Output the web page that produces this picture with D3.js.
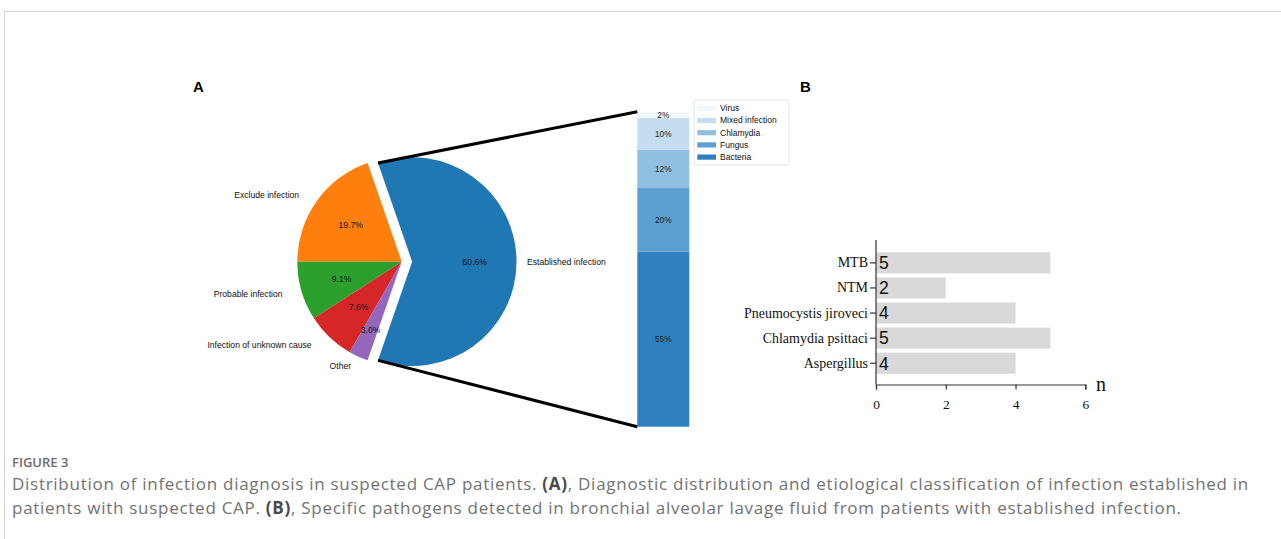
<!DOCTYPE html>
<html>
<head>
<meta charset="utf-8">
<script src="https://cdn.jsdelivr.net/npm/d3@7"></script>
<style>
  html, body { margin: 0; padding: 0; background: #fff; }
  svg { display: block; }
</style>
</head>
<body>
<svg id="fig" width="1281" height="539"></svg>
<script>
// Panel A: diagnosis distribution (pie)
const diagnosisLabels = ["Established infection", "Exclude infection", "Probable infection", "Infection of unknown cause", "Other"];
const diagnosisShares = [60.6, 19.7, 9.1, 7.6, 3.0];
const diagnosisColors = ["#1f77b4", "#ff7f0e", "#2ca02c", "#d62728", "#9467bd"];

// Panel A: etiology of established infection (stacked column, bottom to top)
const etiologyLabels = ["Bacteria", "Fungus", "Chlamydia", "Mixed infection", "Virus"];
const etiologyShares = [55, 20, 12, 10, 2];
const etiologyColors = ["#2f80c0", "#5b9fd3", "#8fc0e2", "#c4ddf0", "#f1f7fd"];

// Panel B: specific pathogens in BALF
const pathogenLabels = ["MTB", "NTM", "Pneumocystis jiroveci", "Chlamydia psittaci", "Aspergillus"];
const pathogenCounts = [5, 2, 4, 5, 4];
const countTicks = [0, 2, 4, 6];

const captionHead = "FIGURE 3";
const captionLine1 = [
  ["Distribution of infection diagnosis in suspected CAP patients. ", false],
  ["(A)", true],
  [", Diagnostic distribution and etiological classification of infection established in", false]
];
const captionLine2 = [
  ["patients with suspected CAP. ", false],
  ["(B)", true],
  [", Specific pathogens detected in bronchial alveolar lavage fluid from patients with established infection.", false]
];

const svg = d3.select("#fig");
const sans = "'Liberation Sans', Arial, sans-serif";
const serif = "'Liberation Serif', 'Times New Roman', serif";

// frame around the figure
svg.append("path")
  .attr("d", "M4.5,539 L4.5,11.5 L1281,11.5")
  .attr("fill", "none").attr("stroke", "#d3d3d3").attr("stroke-width", 1);

// panel letters
svg.append("text").attr("x", 193).attr("y", 92).text("A")
  .attr("font-family", sans).attr("font-weight", "bold").attr("font-size", 15);
svg.append("text").attr("x", 800).attr("y", 92).text("B")
  .attr("font-family", sans).attr("font-weight", "bold").attr("font-size", 15);

// ---------- pie ----------
const cx = 401.7, cy = 261.7, R = 104.4, explode = 0.1 * R;
const total = d3.sum(diagnosisShares);
const half = diagnosisShares[0] / total * Math.PI;   // half-angle of the first slice
const pieGen = d3.pie().sort(null).value(d => d)
  .startAngle(Math.PI / 2 + half)
  .endAngle(Math.PI / 2 + half - 2 * Math.PI);      // counter-clockwise
const arcs = pieGen(diagnosisShares);
const arcGen = d3.arc().innerRadius(0).outerRadius(R);
// radial position of the percentage text, as a fraction of R
const pctDist = [0.6, 0.6, 0.6, 0.6, 0.72];
// extra horizontal nudge for the outer labels on the left side
const labelNudge = [0, -9, -9, -11, -3];

const pieG = svg.append("g");
arcs.forEach((a, i) => {
  const mid = (a.startAngle + a.endAngle) / 2;
  const off = i === 0 ? explode : 0;
  const ox = cx + Math.sin(mid) * off, oy = cy - Math.cos(mid) * off;
  const g = pieG.append("g").attr("transform", `translate(${ox},${oy})`);
  g.append("path").attr("d", arcGen(a)).attr("fill", diagnosisColors[i]);
  g.append("text")
    .attr("x", Math.sin(mid) * R * pctDist[i]).attr("y", -Math.cos(mid) * R * pctDist[i])
    .attr("dy", "0.35em").attr("text-anchor", "middle")
    .attr("font-family", sans).attr("font-size", 8.6).attr("fill", "#111")
    .text(d3.format(".1f")(diagnosisShares[i]) + "%");
  const lx = Math.sin(mid) * R * 1.1, ly = -Math.cos(mid) * R * 1.1;
  g.append("text")
    .attr("x", lx + labelNudge[i]).attr("y", ly)
    .attr("dy", "0.35em").attr("text-anchor", lx > 0 ? "start" : "end")
    .attr("font-family", sans).attr("font-size", 8.6).attr("fill", "#111")
    .text(diagnosisLabels[i]);
});

// ---------- stacked column ----------
const colX0 = 637.3, colX1 = 689.3;
const yCol = d3.scaleLinear().domain([0, d3.sum(etiologyShares)]).range([426.7, 111.7]);
const tops = d3.cumsum(etiologyShares);
const colG = svg.append("g");
etiologyShares.forEach((v, i) => {
  const lo = tops[i] - v, hi = tops[i];
  colG.append("rect")
    .attr("x", colX0).attr("width", colX1 - colX0)
    .attr("y", yCol(hi)).attr("height", yCol(lo) - yCol(hi))
    .attr("fill", etiologyColors[i]);
  colG.append("text")
    .attr("x", (colX0 + colX1) / 2).attr("y", yCol((lo + hi) / 2))
    .attr("dy", "0.35em").attr("text-anchor", "middle")
    .attr("font-family", sans).attr("font-size", 8.3).attr("fill", "#222")
    .text(v + "%");
});

// connectors from the exploded slice to the column
const blue = arcs[0];
const bMid = (blue.startAngle + blue.endAngle) / 2;
const bx = cx + Math.sin(bMid) * explode, by = cy - Math.cos(bMid) * explode;
const pTop = [bx + Math.sin(blue.endAngle) * R, by - Math.cos(blue.endAngle) * R];
const pBot = [bx + Math.sin(blue.startAngle) * R, by - Math.cos(blue.startAngle) * R];
svg.append("line").attr("x1", pTop[0]).attr("y1", pTop[1]).attr("x2", colX0).attr("y2", yCol.range()[1])
  .attr("stroke", "#000").attr("stroke-width", 3);
svg.append("line").attr("x1", pBot[0]).attr("y1", pBot[1]).attr("x2", colX0).attr("y2", yCol.range()[0])
  .attr("stroke", "#000").attr("stroke-width", 3);

// legend (top entry = last stacked segment)
const legG = svg.append("g").attr("transform", "translate(694,100)");
legG.append("rect").attr("width", 95).attr("height", 65).attr("rx", 1.5)
  .attr("fill", "#fff").attr("stroke", "#dcdcdc").attr("stroke-width", 0.8);
const legOrder = d3.range(etiologyLabels.length).reverse();
legOrder.forEach((idx, k) => {
  const yy = 8.3 + k * 12.2;
  legG.append("rect").attr("x", 3.3).attr("y", yy - 2.6).attr("width", 18.7).attr("height", 5.2)
    .attr("fill", etiologyColors[idx]);
  legG.append("text").attr("x", 26).attr("y", yy).attr("dy", "0.35em")
    .attr("font-family", sans).attr("font-size", 8.5).attr("fill", "#111")
    .text(etiologyLabels[idx]);
});

// ---------- panel B bars ----------
const xB = d3.scaleLinear().domain([0, 6]).range([876, 1085.3]);
const yB = d3.scaleBand().domain(pathogenLabels).range([250.3, 375.8])
  .paddingInner(0.16).paddingOuter(0.08);
const axisTop = 240, axisBottom = 384.5;
const bG = svg.append("g");
pathogenLabels.forEach((lab, i) => {
  bG.append("rect").attr("x", xB(0)).attr("y", yB(lab))
    .attr("width", xB(pathogenCounts[i]) - xB(0)).attr("height", yB.bandwidth())
    .attr("fill", "#d9d9d9");
  bG.append("text").attr("x", xB(0) + 3).attr("y", yB(lab) + yB.bandwidth() / 2)
    .attr("dy", "0.36em").attr("font-family", sans).attr("font-size", 17.5).attr("fill", "#111")
    .text(pathogenCounts[i]);
});

const yAxisG = svg.append("g").attr("transform", `translate(${xB(0)},0)`)
  .call(d3.axisLeft(yB).tickSize(6).tickPadding(2));
yAxisG.select(".domain").remove();
yAxisG.selectAll("line").attr("stroke", "#333").attr("stroke-width", 1.2);
yAxisG.selectAll("text").attr("font-family", serif).attr("font-size", 14).attr("fill", "#111");
svg.append("line").attr("x1", xB(0)).attr("x2", xB(0)).attr("y1", axisTop).attr("y2", axisBottom)
  .attr("stroke", "#333").attr("stroke-width", 1.2);

const xAxisG = svg.append("g").attr("transform", `translate(0,${axisBottom})`)
  .call(d3.axisBottom(xB).tickValues(countTicks).tickFormat(d3.format("d")).tickSize(5).tickPadding(10));
xAxisG.select(".domain").attr("stroke", "#333").attr("stroke-width", 1.2);
xAxisG.selectAll("line").attr("stroke", "#333").attr("stroke-width", 1.2);
xAxisG.selectAll("text").attr("font-family", serif).attr("font-size", 13.5).attr("fill", "#111");
svg.append("text").attr("x", 1096).attr("y", 391).text("n")
  .attr("font-family", serif).attr("font-size", 20).attr("fill", "#111");

// ---------- caption ----------
const capFont = "'Open Sans', 'Noto Sans', sans-serif";
const capX = 12, capWidth = 1237, capSize = 17;
svg.append("text").attr("x", capX).attr("y", 466.5).text(captionHead)
  .attr("font-family", capFont).attr("font-weight", 600).attr("font-size", 13).attr("fill", "#6b6b6b");
function captionLine(parts, y) {
  const t = svg.append("text").attr("x", capX).attr("y", y)
    .attr("font-family", capFont).attr("font-size", capSize).attr("fill", "#727272");
  parts.forEach(([s, b]) => {
    t.append("tspan").text(s).attr("font-weight", b ? 700 : 400).attr("fill", b ? "#4a4a4a" : "#727272");
  });
  return t;
}
const l1 = captionLine(captionLine1, 490);
const l2 = captionLine(captionLine2, 514);
// spread the glyphs so the first line fills the text column
const n1 = captionLine1.map(p => p[0]).join("").length;
const spacing = (capWidth - l1.node().getComputedTextLength()) / n1;
l1.attr("letter-spacing", spacing);
l2.attr("letter-spacing", spacing);
</script>
</body>
</html>
